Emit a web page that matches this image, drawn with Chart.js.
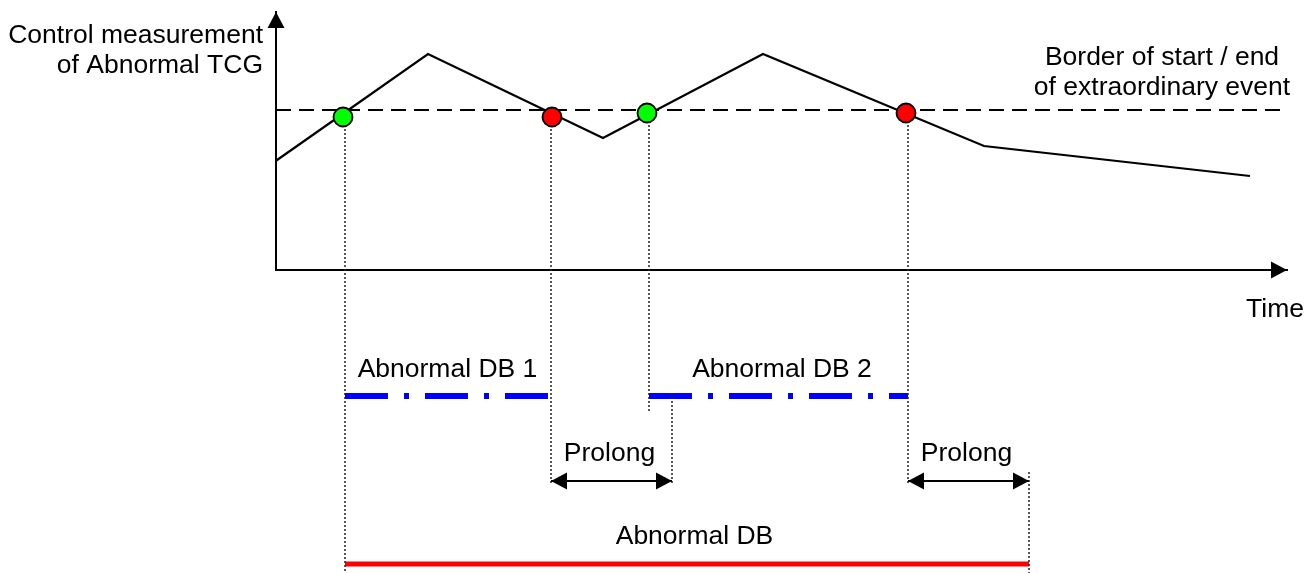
<!DOCTYPE html>
<html>
<head>
<meta charset="utf-8">
<script src="https://cdn.jsdelivr.net/npm/chart.js@4/dist/chart.umd.min.js"></script>
<style>
    html, body { margin: 0; padding: 0; background: #fff; }
    canvas { display: block; }
</style>
</head>
<body>
<canvas id="dbChart" width="1312" height="573"></canvas>
<script>
// Control measurement curve (time units / value units)
const curveTime = [0, 15.2, 32.7, 48.7, 70.8, 97.4];
const curveValue = [43.7, 86.4, 52.8, 86.4, 49.6, 37.6];

// Border of start / end of extraordinary event
const borderLevel = 64;
const borderSpan = [0, 100.4];

// Crossing points of the border
const crossTime = [6.7, 27.6, 37.1, 63.0];
const crossValue = [61.2, 61.2, 62.8, 62.8];
const crossKind = ['start', 'end', 'start', 'end'];

// Lower lanes (below the time axis)
const dbLevel = -50.4;
const db1Span = [6.9, 27.2];
const db2Span = [37.3, 63.2];
const prolongLevel = -84.4;
const prolong1Span = [27.5, 39.6];
const prolong2Span = [63.2, 75.3];
const totalLevel = -117.6;
const totalSpan = [6.9, 75.3];

// Dotted guide lines
const guideTime = [6.9, 27.5, 37.3, 39.6, 63.2, 75.3];
const guideTop = [61.2, 61.2, 62.8, -49.2, 62.8, -80.8];
const guideBottom = [-121.2, -85.2, -56.8, -85.2, -85.2, -121.2];

// Axis ends
const axisTimeEnd = 101.1;
const axisValueEnd = 103.2;

// Text labels
const labelText = ['Control measurement', 'of Abnormal TCG', 'Border of start / end', 'of extraordinary event',
    'Time', 'Abnormal DB 1', 'Abnormal DB 2', 'Prolong', 'Prolong', 'Abnormal DB'];
const labelTime = [-1.3, -1.3, 88.6, 88.6, 99.9, 17.15, 50.6, 33.35, 69.05, 41.85];
const labelValue = [90.8, 79, 82, 70, -18.8, -42.8, -42.8, -76.4, -76.4, -109.6];
const labelAlign = ['right', 'right', 'center', 'center', 'center', 'center', 'center', 'center', 'center', 'center'];

const FONT = '26.5px "Liberation Sans", Arial, sans-serif';

function seg(span, level) {
    return [{ x: span[0], y: level }, { x: span[1], y: level }];
}

// several vertical pieces in one dataset, broken with NaN gaps
function guides() {
    const pts = [];
    guideTime.forEach((t, i) => {
        pts.push({ x: t, y: guideTop[i] }, { x: t, y: guideBottom[i] }, { x: t, y: NaN });
    });
    return pts;
}

function lineSet(data, extra) {
    return Object.assign({
        data,
        showLine: true,
        pointRadius: 0,
        pointHoverRadius: 0,
        borderColor: '#000',
        borderWidth: 2,
        tension: 0,
        spanGaps: false,
        clip: false,
        order: 5
    }, extra);
}

function drawHead(ctx, from, to, len, half) {
    const a = Math.atan2(to.y - from.y, to.x - from.x);
    ctx.save();
    ctx.translate(to.x, to.y);
    ctx.rotate(a);
    ctx.beginPath();
    ctx.moveTo(0, 0);
    ctx.lineTo(-len, -half);
    ctx.lineTo(-len, half);
    ctx.closePath();
    ctx.fillStyle = '#000';
    ctx.fill();
    ctx.restore();
}

// arrow heads at the ends of flagged datasets
const arrowHeads = {
    id: 'arrowHeads',
    afterDatasetsDraw(chart) {
        const ctx = chart.ctx;
        chart.data.datasets.forEach((ds, i) => {
            if (!ds.arrows) return;
            const pts = chart.getDatasetMeta(i).data;
            const n = pts.length;
            if (ds.arrows.indexOf('start') >= 0) drawHead(ctx, pts[1], pts[0], ds.headLen, ds.headHalf);
            if (ds.arrows.indexOf('end') >= 0) drawHead(ctx, pts[n - 2], pts[n - 1], ds.headLen, ds.headHalf);
        });
    }
};

// text labels placed through the scales
const textLabels = {
    id: 'textLabels',
    afterDraw(chart) {
        const ctx = chart.ctx;
        const xs = chart.scales.x, ys = chart.scales.y;
        ctx.save();
        ctx.font = FONT;
        ctx.fillStyle = '#000';
        ctx.textBaseline = 'alphabetic';
        labelText.forEach((t, i) => {
            ctx.textAlign = labelAlign[i];
            ctx.fillText(t, xs.getPixelForValue(labelTime[i]), ys.getPixelForValue(labelValue[i]));
        });
        ctx.restore();
    }
};

const datasets = [
    // crossing dots
    {
        data: crossTime.map((t, i) => ({ x: t, y: crossValue[i] })),
        showLine: false,
        pointRadius: 9.5,
        pointHoverRadius: 9.5,
        pointBorderWidth: 1.8,
        pointBorderColor: '#000',
        pointBackgroundColor: crossKind.map(k => k === 'start' ? '#00ff00' : '#ff0000'),
        clip: false,
        order: 0
    },
    lineSet(curveTime.map((t, i) => ({ x: t, y: curveValue[i] })), { borderWidth: 2.2, borderJoinStyle: 'miter', order: 2 }),
    lineSet(seg(borderSpan, borderLevel), { borderDash: [15, 8], order: 3 }),
    lineSet(guides(), { borderWidth: 1.5, borderColor: '#222', borderDash: [2, 2], order: 4 }),
    // axes
    lineSet([{ x: 0, y: 0 }, { x: 0, y: axisValueEnd }], { arrows: ['end'], headLen: 16, headHalf: 8.5, borderCapStyle: 'square' }),
    lineSet([{ x: 0, y: 0 }, { x: axisTimeEnd, y: 0 }], { arrows: ['end'], headLen: 16, headHalf: 8.5, borderCapStyle: 'square' }),
    // Abnormal DB 1 / 2
    lineSet(seg(db1Span, dbLevel), { borderColor: '#0000ff', borderWidth: 6, borderDash: [43, 16, 5, 16], borderCapStyle: 'butt' }),
    lineSet(seg(db2Span, dbLevel), { borderColor: '#0000ff', borderWidth: 6, borderDash: [43, 16, 5, 16], borderCapStyle: 'butt' }),
    // Prolong arrows
    lineSet(seg(prolong1Span, prolongLevel), { arrows: ['start', 'end'], headLen: 16, headHalf: 8.5 }),
    lineSet(seg(prolong2Span, prolongLevel), { arrows: ['start', 'end'], headLen: 16, headHalf: 8.5 }),
    // Abnormal DB total
    lineSet(seg(totalSpan, totalLevel), { borderColor: '#ff0000', borderWidth: 5, borderCapStyle: 'butt' })
];

new Chart(document.getElementById('dbChart'), {
    type: 'scatter',
    data: { datasets },
    options: {
        responsive: false,
        animation: false,
        events: [],
        layout: { autoPadding: false, padding: { left: 276, right: 36, top: 20, bottom: 303 } },
        plugins: { legend: { display: false }, tooltip: { enabled: false }, title: { display: false } },
        scales: {
            x: { type: 'linear', min: 0, max: 100, display: false },
            y: { type: 'linear', min: 0, max: 100, display: false }
        }
    },
    plugins: [arrowHeads, textLabels]
});
</script>
</body>
</html>
